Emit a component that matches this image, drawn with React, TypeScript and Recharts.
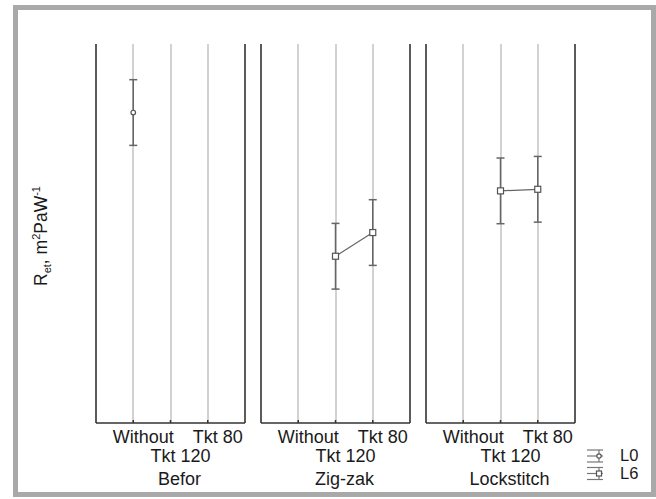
import React from 'react';
import { LineChart, Line, XAxis, YAxis, CartesianGrid, ErrorBar } from 'recharts';

const categories = ['Without', 'Tkt 120', 'Tkt 80'];
const groups = ['Befor', 'Zig-zak', 'Lockstitch'];
const yTicks = [0, 10, 20, 30, 40, 50, 60, 70, 80, 90, 100, 110, 120];
const rightTicks = [0, 1, 2, 3, 4, 5, 6, 7, 8, 9];
const xTicks = [1, 2, 3];

// mean values per group, per category (null = not measured)
const beforL0 = [98.3, null, null];
const beforL0Err = [10.4, null, null];
const zigzakL6 = [null, 52.8, 60.3];
const zigzakL6Err = [null, 10.4, 10.4];
const lockstitchL6 = [null, 73.5, 74.0];
const lockstitchL6Err = [null, 10.4, 10.4];

const FONT = '"Liberation Sans", Arial, Helvetica, sans-serif';
const TOP = 44;
const PLOT_H = 379;
const PLOT_W = 149;
const BOTTOM_AXIS = 76;
const PLOT_BOTTOM = TOP + PLOT_H;
const LEFT_W = 60;
const RIGHT_W = 20;
const CHART_H = TOP + PLOT_H + BOTTOM_AXIS;
const AXIS = '#333';
const MARK = '#666';
const GRID = '#d2d2d2';

type Row = { x: number; val: number; err: number };

function rows(vals: (number | null)[], errs: (number | null)[]): Row[] {
  const out: Row[] = [];
  vals.forEach((v, i) => {
    if (v != null) out.push({ x: i + 1, val: v, err: errs[i] ?? 0 });
  });
  return out;
}

const panels = [
  { title: groups[0], series: 'L0', data: rows(beforL0, beforL0Err) },
  { title: groups[1], series: 'L6', data: rows(zigzakL6, zigzakL6Err) },
  { title: groups[2], series: 'L6', data: rows(lockstitchL6, lockstitchL6Err) },
];

const panelLeft = (idx: number) => 96 + 165 * idx - LEFT_W;

function CircleDot(props: any) {
  const { cx, cy } = props;
  if (cx == null || cy == null) return null;
  return <circle cx={cx} cy={cy} r={2.3} fill="#fff" stroke="#555" strokeWidth={1.2} />;
}

function SquareDot(props: any) {
  const { cx, cy } = props;
  if (cx == null || cy == null) return null;
  return <rect x={cx - 3} y={cy - 3} width={6} height={6} fill="#fff" stroke="#555" strokeWidth={1.2} />;
}

function CatTick(props: any) {
  const { x, payload, title } = props;
  const v = Number(payload.value);
  const label = categories[v - 1];
  const dy = v === 2 ? 39 : 20;
  return (
    <g>
      <text x={x + 10} y={PLOT_BOTTOM + dy} textAnchor="middle" fontSize={18} fill="#1a1a1a" fontFamily={FONT}>
        {label}
      </text>
      {v === 2 && (
        <text x={x + 9} y={PLOT_BOTTOM + 62} textAnchor="middle" fontSize={18} fill="#1a1a1a" fontFamily={FONT}>
          {title}
        </text>
      )}
    </g>
  );
}

// value-axis tick: horizontal grid line across the plot plus a short inner tick mark
function GridTick(props: any) {
  const { y, payload } = props;
  const v = Number(payload.value);
  const edge = v === yTicks[0] || v === yTicks[yTicks.length - 1];
  return (
    <g>
      {!edge && (
        <line x1={LEFT_W} x2={LEFT_W + PLOT_W} y1={y} y2={y} stroke={GRID} strokeWidth={2} shapeRendering="crispEdges" />
      )}
      <line x1={LEFT_W} x2={LEFT_W + 3} y1={y} y2={y} stroke={AXIS} strokeWidth={1.5} />
    </g>
  );
}

const axisLine = { stroke: AXIS, strokeWidth: 1.5 };

// back layer: frame, grid, ticks and category labels
function PanelAxes({ idx }: { idx: number }) {
  const p = panels[idx];
  return (
    <div style={{ position: 'absolute', left: panelLeft(idx), top: 0 }}>
      <LineChart width={LEFT_W + PLOT_W + RIGHT_W} height={CHART_H} data={p.data} margin={{ top: TOP, right: 0, bottom: 0, left: 0 }}>
        <CartesianGrid stroke={GRID} strokeWidth={2} horizontal={false} shapeRendering="crispEdges" />
        <XAxis
          dataKey="x"
          type="number"
          domain={[0, 4]}
          ticks={xTicks}
          height={BOTTOM_AXIS}
          axisLine={axisLine}
          tickLine={axisLine}
          tickSize={-3}
          tick={(t: any) => <CatTick {...t} title={p.title} />}
          interval={0}
        />
        <XAxis
          xAxisId="top"
          orientation="top"
          type="number"
          domain={[0, 4]}
          ticks={xTicks}
          height={0}
          axisLine={axisLine}
          tickLine={axisLine}
          tickSize={-3}
          tick={false}
        />
        <YAxis
          type="number"
          domain={[0, 120]}
          ticks={yTicks}
          width={LEFT_W}
          interval={0}
          axisLine={axisLine}
          tickLine={false}
          tick={(t: any) => <GridTick {...t} />}
        />
        <YAxis
          yAxisId="r"
          orientation="right"
          type="number"
          domain={[0, 9]}
          ticks={rightTicks}
          width={RIGHT_W}
          interval={0}
          axisLine={axisLine}
          tickLine={axisLine}
          tickSize={-3}
          tick={false}
        />
      </LineChart>
    </div>
  );
}

// front layer: the series with error bars, same layout, invisible axes
function PanelSeries({ idx }: { idx: number }) {
  const p = panels[idx];
  return (
    <div style={{ position: 'absolute', left: panelLeft(idx), top: 0 }}>
      <LineChart width={LEFT_W + PLOT_W + RIGHT_W} height={CHART_H} data={p.data} margin={{ top: TOP, right: 0, bottom: 0, left: 0 }}>
        <XAxis dataKey="x" type="number" domain={[0, 4]} ticks={xTicks} height={BOTTOM_AXIS} axisLine={false} tickLine={false} tick={false} />
        <XAxis xAxisId="top" orientation="top" type="number" domain={[0, 4]} height={0} axisLine={false} tickLine={false} tick={false} />
        <YAxis type="number" domain={[0, 120]} ticks={yTicks} width={LEFT_W} axisLine={false} tickLine={false} tick={false} />
        <YAxis yAxisId="r" orientation="right" type="number" domain={[0, 9]} width={RIGHT_W} axisLine={false} tickLine={false} tick={false} />
        <Line
          dataKey="val"
          stroke={MARK}
          strokeWidth={1.2}
          isAnimationActive={false}
          dot={p.series === 'L0' ? <CircleDot /> : <SquareDot />}
          activeDot={false}
        >
          <ErrorBar dataKey="err" direction="y" width={4} stroke={MARK} strokeWidth={1.5} />
        </Line>
      </LineChart>
    </div>
  );
}

// value labels of the shared y axis, left of the first panel
function ValueLabels() {
  return (
    <div style={{ position: 'absolute', left: panelLeft(0), top: 0 }}>
      <LineChart width={LEFT_W + 10} height={CHART_H} data={panels[0].data} margin={{ top: TOP, right: 0, bottom: 0, left: 0 }}>
        <XAxis dataKey="x" type="number" domain={[0, 4]} height={BOTTOM_AXIS} axisLine={false} tickLine={false} tick={false} />
        <YAxis
          type="number"
          domain={[0, 120]}
          ticks={yTicks}
          width={LEFT_W}
          interval={0}
          axisLine={false}
          tickLine={false}
          tickSize={0}
          tickMargin={7}
          tick={{ fontSize: 16.5, fill: '#1a1a1a', fontFamily: FONT }}
        />
      </LineChart>
    </div>
  );
}

function YTitle() {
  return (
    <svg width={70} height={499} style={{ position: 'absolute', left: 0, top: 0 }}>
      <text transform="translate(47,236) rotate(-90)" textAnchor="middle" fontSize={17.5} fill="#1a1a1a" fontFamily={FONT}>
        R<tspan dy={4} fontSize={11}>et</tspan>
        <tspan dy={-4}>, m</tspan>
        <tspan dy={-7} fontSize={11}>2</tspan>
        <tspan dy={7}>PaW</tspan>
        <tspan dy={-7} fontSize={11}>-1</tspan>
      </text>
    </svg>
  );
}

function LegendBox() {
  const c = '#777';
  const glyph = (y: number, kind: string) => (
    <g>
      <line x1={587} x2={603} y1={y - 6} y2={y - 6} stroke={c} strokeWidth={1.2} />
      <line x1={587} x2={603} y1={y} y2={y} stroke={c} strokeWidth={1.2} />
      <line x1={587} x2={603} y1={y + 6} y2={y + 6} stroke={c} strokeWidth={1.2} />
      <line x1={599} x2={599} y1={y - 6} y2={y + 6} stroke={c} strokeWidth={1.2} />
      {kind === 'L0' ? (
        <circle cx={599} cy={y} r={2.2} fill="#fff" stroke="#555" strokeWidth={1.2} />
      ) : (
        <rect x={596.5} y={y - 2.5} width={5} height={5} fill="#fff" stroke="#555" strokeWidth={1.2} />
      )}
    </g>
  );
  return (
    <svg width={80} height={60} style={{ position: 'absolute', left: 576, top: 436, pointerEvents: 'none' }}>
      <g transform="translate(-576,-436)">
        {glyph(456, 'L0')}
        {glyph(473.5, 'L6')}
        <text x={620} y={461} fontSize={16.5} fill="#1a1a1a" fontFamily={FONT}>L0</text>
        <text x={620} y={478.5} fontSize={16.5} fill="#1a1a1a" fontFamily={FONT}>L6</text>
      </g>
    </svg>
  );
}

export default function App() {
  return (
    <div style={{ position: 'absolute', left: 0, top: 0, width: 656, height: 499, background: '#fff', overflow: 'hidden' }}>
      <div
        style={{
          position: 'absolute',
          left: 13,
          top: 5,
          width: 643,
          height: 492,
          boxSizing: 'border-box',
          border: '5px solid #a9a9a9',
        }}
      />
      <YTitle />
      <PanelAxes idx={0} />
      <PanelAxes idx={1} />
      <PanelAxes idx={2} />
      <ValueLabels />
      <PanelSeries idx={0} />
      <PanelSeries idx={1} />
      <PanelSeries idx={2} />
      <LegendBox />
    </div>
  );
}
